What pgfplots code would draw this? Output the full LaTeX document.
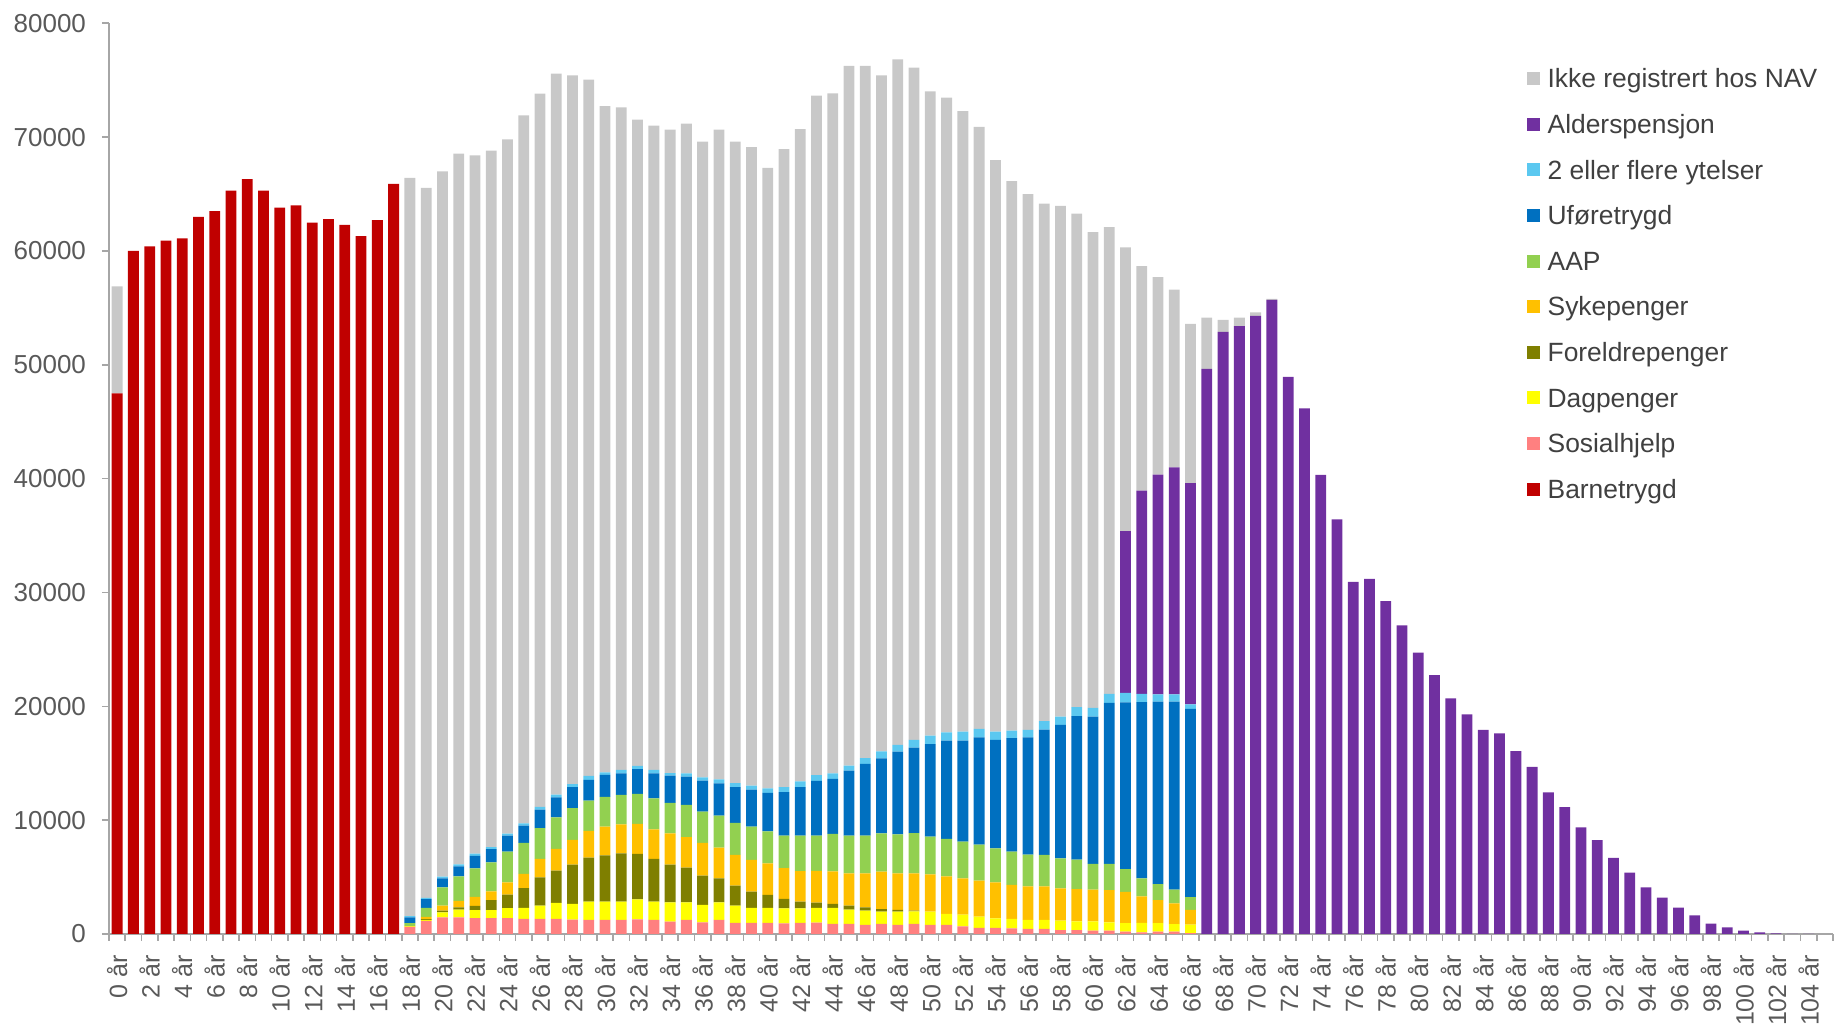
\documentclass[border=0pt]{standalone}
\usepackage{fontspec}
\setmainfont{Liberation Sans}
\usepackage{pgfplots}
\usepackage{pgfplotstable}
\pgfplotsset{compat=1.18}
\definecolor{cgray}{HTML}{C8C8C8}
\definecolor{cpurple}{HTML}{7030A0}
\definecolor{clb}{HTML}{5BC8F0}
\definecolor{cblue}{HTML}{0070C0}
\definecolor{cgreen}{HTML}{92D050}
\definecolor{corange}{HTML}{FFC000}
\definecolor{colive}{HTML}{7F7F00}
\definecolor{cyellow}{HTML}{FFFF00}
\definecolor{cpink}{HTML}{FF8080}
\definecolor{cred}{HTML}{C00000}
\definecolor{axisgray}{HTML}{A6A6A6}
\definecolor{labgray}{HTML}{595959}
\definecolor{legtext}{HTML}{404040}
\pgfplotstableread{
x red pink dag fore syke aap ufo lb alder gray
0 47500 0 0 0 0 0 0 0 0 9400
1 60000 0 0 0 0 0 0 0 0 0
2 60400 0 0 0 0 0 0 0 0 0
3 60900 0 0 0 0 0 0 0 0 0
4 61100 0 0 0 0 0 0 0 0 0
5 63000 0 0 0 0 0 0 0 0 0
6 63500 0 0 0 0 0 0 0 0 0
7 65300 0 0 0 0 0 0 0 0 0
8 66300 0 0 0 0 0 0 0 0 0
9 65300 0 0 0 0 0 0 0 0 0
10 63800 0 0 0 0 0 0 0 0 0
11 64000 0 0 0 0 0 0 0 0 0
12 62500 0 0 0 0 0 0 0 0 0
13 62800 0 0 0 0 0 0 0 0 0
14 62300 0 0 0 0 0 0 0 0 0
15 61300 0 0 0 0 0 0 0 0 0
16 62700 0 0 0 0 0 0 0 0 0
17 65900 0 0 0 0 0 0 0 0 0
18 0 600 50 0 50 250 500 120 0 64860
19 0 1150 100 50 200 800 760 120 0 62370
20 0 1460 440 150 440 1610 790 150 0 61950
21 0 1460 670 200 590 2140 880 180 0 62420
22 0 1400 700 380 790 2490 1110 180 0 61350
23 0 1400 700 880 760 2550 1170 180 0 61170
24 0 1400 880 1170 1080 2700 1410 180 0 60980
25 0 1320 970 1730 1260 2720 1520 200 0 62190
26 0 1320 1170 2490 1610 2700 1640 230 0 62660
27 0 1320 1410 2840 1900 2780 1760 230 0 63330
28 0 1260 1380 3460 2170 2780 1850 260 0 62270
29 0 1230 1610 3870 2340 2670 1820 350 0 61160
30 0 1230 1610 4070 2520 2610 1930 230 0 58530
31 0 1230 1610 4250 2550 2580 1900 290 0 58200
32 0 1290 1760 3980 2640 2640 2170 290 0 56760
33 0 1230 1610 3750 2610 2720 2200 290 0 56590
34 0 1080 1700 3310 2750 2670 2400 230 0 56510
35 0 1230 1550 3050 2670 2840 2490 290 0 57060
36 0 1030 1520 2580 2870 2750 2720 290 0 55840
37 0 1230 1550 2110 2700 2810 2840 350 0 57060
38 0 970 1520 1760 2700 2810 3140 350 0 56350
39 0 970 1320 1440 2780 2930 3250 350 0 56090
40 0 970 1320 1140 2780 2810 3370 410 0 54510
41 0 940 1320 820 2700 2870 3810 440 0 56050
42 0 970 1290 590 2670 3130 4250 500 0 57310
43 0 1000 1300 450 2800 3100 4800 500 0 59690
44 0 880 1410 350 2870 3280 4830 500 0 59720
45 0 880 1260 350 2840 3310 5710 440 0 61460
46 0 790 1260 290 2990 3310 6300 500 0 60810
47 0 880 1080 230 3280 3370 6590 620 0 59380
48 0 790 1170 150 3220 3430 7270 590 0 60210
49 0 880 1110 60 3280 3520 7530 670 0 59050
50 0 790 1170 0 3280 3310 8120 760 0 56590
51 0 790 970 0 3310 3280 8640 730 0 55740
52 0 670 1030 0 3190 3220 8880 790 0 54510
53 0 530 1000 0 3160 3160 9430 730 0 52900
54 0 530 850 0 3160 2990 9520 730 0 50200
55 0 500 820 0 2990 2930 9960 670 0 48270
56 0 440 790 0 2960 2780 10310 640 0 47070
57 0 440 790 0 2960 2750 11020 730 0 45460
58 0 350 820 0 2840 2640 11720 730 0 44870
59 0 350 760 0 2840 2580 12600 790 0 43350
60 0 290 820 0 2780 2260 12950 760 0 41790
61 0 290 730 0 2840 2290 14150 790 0 41000
62 0 200 760 0 2750 1990 14650 820 14230 24910
63 0 150 820 0 2340 1580 15470 730 17850 19720
64 0 200 760 0 2020 1410 16030 620 19310 17350
65 0 200 670 0 1820 1200 16530 620 19950 15620
66 0 80 740 0 1300 1110 16550 400 19420 14000
67 0 0 0 0 0 0 0 0 49640 4510
68 0 0 0 0 0 0 0 0 52900 1050
69 0 0 0 0 0 0 0 0 53400 750
70 0 0 0 0 0 0 0 0 54300 300
71 0 0 0 0 0 0 0 0 55700 100
72 0 0 0 0 0 0 0 0 48950 0
73 0 0 0 0 0 0 0 0 46180 0
74 0 0 0 0 0 0 0 0 40320 0
75 0 0 0 0 0 0 0 0 36430 0
76 0 0 0 0 0 0 0 0 30930 0
77 0 0 0 0 0 0 0 0 31190 0
78 0 0 0 0 0 0 0 0 29250 0
79 0 0 0 0 0 0 0 0 27100 0
80 0 0 0 0 0 0 0 0 24720 0
81 0 0 0 0 0 0 0 0 22750 0
82 0 0 0 0 0 0 0 0 20700 0
83 0 0 0 0 0 0 0 0 19290 0
84 0 0 0 0 0 0 0 0 17920 0
85 0 0 0 0 0 0 0 0 17620 0
86 0 0 0 0 0 0 0 0 16060 0
87 0 0 0 0 0 0 0 0 14680 0
88 0 0 0 0 0 0 0 0 12450 0
89 0 0 0 0 0 0 0 0 11150 0
90 0 0 0 0 0 0 0 0 9370 0
91 0 0 0 0 0 0 0 0 8250 0
92 0 0 0 0 0 0 0 0 6690 0
93 0 0 0 0 0 0 0 0 5380 0
94 0 0 0 0 0 0 0 0 4100 0
95 0 0 0 0 0 0 0 0 3190 0
96 0 0 0 0 0 0 0 0 2320 0
97 0 0 0 0 0 0 0 0 1640 0
98 0 0 0 0 0 0 0 0 920 0
99 0 0 0 0 0 0 0 0 590 0
100 0 0 0 0 0 0 0 0 300 0
101 0 0 0 0 0 0 0 0 150 0
102 0 0 0 0 0 0 0 0 60 0
103 0 0 0 0 0 0 0 0 20 0
104 0 0 0 0 0 0 0 0 10 0
105 0 0 0 0 0 0 0 0 0 0
}\data
\begin{document}
\begin{tikzpicture}
\begin{axis}[
  at={(0,0)}, anchor=south west,
  scale only axis, width=862pt, height=455.35pt,
  ybar stacked, bar width=5.4pt,
  xmin=-0.5, xmax=105.5, ymin=0, ymax=80000,
  axis x line=bottom, axis y line=left,
  axis line style={draw=axisgray, line width=0.8pt, -},
  x axis line style={-}, y axis line style={-},
  tick align=outside,
  major tick length=3.5pt, minor tick length=3.5pt,
  ytick={0,10000,...,80000},
  scaled y ticks=false,
  /pgf/number format/1000 sep={},
  /pgf/number format/assume math mode=true,
  y tick style={draw=axisgray, line width=0.8pt},
  yticklabel style={font=\fontsize{13}{15}\selectfont, text=labgray, xshift=-4.5pt},
  xtick={0,2,...,104},
  xticklabels={0 år,2 år,4 år,6 år,8 år,10 år,12 år,14 år,16 år,18 år,20 år,22 år,24 år,26 år,28 år,30 år,32 år,34 år,36 år,38 år,40 år,42 år,44 år,46 år,48 år,50 år,52 år,54 år,56 år,58 år,60 år,62 år,64 år,66 år,68 år,70 år,72 år,74 år,76 år,78 år,80 år,82 år,84 år,86 år,88 år,90 år,92 år,94 år,96 år,98 år,100 år,102 år,104 år},
  major x tick style={draw=none},
  minor xtick={-0.5,0.5,...,105.5},
  minor x tick style={draw=axisgray, line width=0.8pt},
  xticklabel style={rotate=90, anchor=east, font=\fontsize{12.5}{14}\selectfont, text=labgray, xshift=-3.5pt},
  reverse legend,
  legend cell align=left,
  legend image code/.code={\draw[#1,draw=none] (0pt,-2pt) rectangle (6.5pt,4.5pt);},
  legend style={at={(axis description cs:0.8223,0.9503)}, anchor=north west,
    draw=none, fill=none, inner sep=0pt, row sep=10.6pt, column sep=3.8pt,
    font=\fontsize{13.2}{15}\selectfont, text=legtext,
    nodes={inner sep=0pt, text height=9.5pt, text depth=2.7pt}},
]
\addplot[fill=cred, draw=none] table[x=x,y=red]{\data};
\addplot[fill=cpink, draw=none] table[x=x,y=pink]{\data};
\addplot[fill=cyellow, draw=none] table[x=x,y=dag]{\data};
\addplot[fill=colive, draw=none] table[x=x,y=fore]{\data};
\addplot[fill=corange, draw=none] table[x=x,y=syke]{\data};
\addplot[fill=cgreen, draw=none] table[x=x,y=aap]{\data};
\addplot[fill=cblue, draw=none] table[x=x,y=ufo]{\data};
\addplot[fill=clb, draw=none] table[x=x,y=lb]{\data};
\addplot[fill=cpurple, draw=none] table[x=x,y=alder]{\data};
\addplot[fill=cgray, draw=none] table[x=x,y=gray]{\data};
\legend{Barnetrygd,Sosialhjelp,Dagpenger,Foreldrepenger,Sykepenger,AAP,Uføretrygd,2 eller flere ytelser,Alderspensjon,Ikke registrert hos NAV}
\end{axis}
\pgfresetboundingbox
\path[use as bounding box] (-54.5pt,-46pt) rectangle (867pt,467pt);
\end{tikzpicture}
\end{document}
